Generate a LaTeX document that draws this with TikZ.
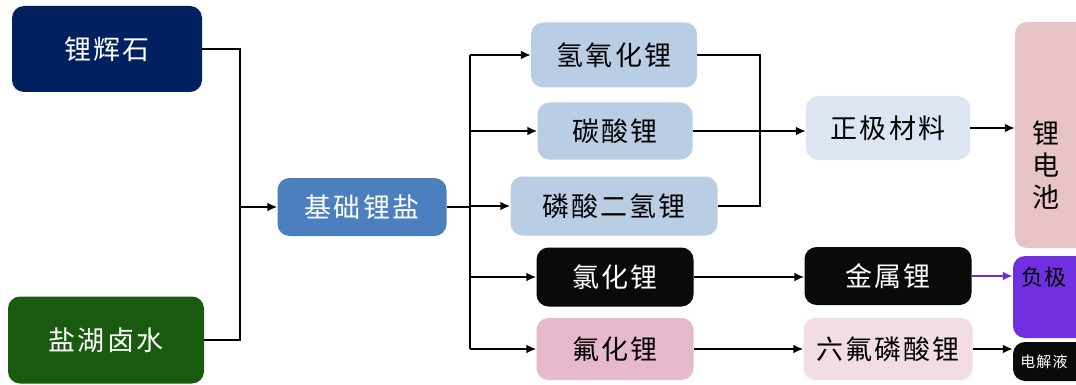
\documentclass[tikz,border=0pt]{standalone}
\usepackage{fontspec}
\setmainfont{Liberation Serif}
\newfontfamily\cjk[LetterSpace=8]{Noto Sans CJK SC}
\usetikzlibrary{arrows.meta}
\definecolor{navy}{HTML}{002060}
\definecolor{dgreen}{HTML}{1A5A10}
\definecolor{midblue}{HTML}{4B7FBE}
\definecolor{ltblue}{HTML}{B9CDE5}
\definecolor{paleblue}{HTML}{DCE6F2}
\definecolor{pinkA}{HTML}{E6B9CD}
\definecolor{pinkB}{HTML}{F2DDE6}
\definecolor{pinkR}{HTML}{E8C4C6}
\definecolor{purp}{HTML}{7030E0}
\definecolor{darkbox}{HTML}{0A0A0A}
\tikzset{
  box/.style={rounded corners=12pt, inner sep=0pt, font=\cjk\fontsize{27}{31}\selectfont, align=center},
  sidetext/.style={inner sep=0pt, align=center},
  ln/.style={line width=2pt, black},
  arr/.style={line width=2pt, black, -{Latex[length=10pt,width=9pt]}},
}
\begin{document}
\begin{tikzpicture}[x=1pt,y=-1pt]
\useasboundingbox (0,0) rectangle (1076,385);
\fill[white] (0,0) rectangle (1076,385);
% column 1
\node[box, fill=navy, text=white, minimum width=190pt, minimum height=86pt] (A) at (107,49) {锂辉石};
\node[box, fill=dgreen, text=white, minimum width=196pt, minimum height=87pt] (B) at (106,340) {盐湖卤水};
% column 2
\node[box, fill=midblue, text=white, minimum width=169pt, minimum height=58pt] (C) at (362,207) {基础锂盐};
% column 3
\node[box, fill=ltblue, minimum width=166pt, minimum height=65pt] (N1) at (614,55) {氢氧化锂};
\node[box, fill=ltblue, minimum width=155pt, minimum height=57pt] (N2) at (615,131) {碳酸锂};
\node[box, fill=ltblue, minimum width=207pt, minimum height=59pt] (N3) at (614,206) {磷酸二氢锂};
\node[box, fill=darkbox, text=white, minimum width=157pt, minimum height=59pt] (N4) at (615,277) {氯化锂};
\node[box, fill=pinkA, minimum width=157pt, minimum height=62pt] (N5) at (615,349) {氟化锂};
% column 4
\node[box, fill=paleblue, minimum width=164pt, minimum height=64pt] (M1) at (888,128) {正极材料};
\node[box, fill=darkbox, text=white, minimum width=167pt, minimum height=58pt] (M2) at (888,276) {金属锂};
\node[box, fill=pinkB, minimum width=169pt, minimum height=62pt] (M3) at (888,349) {六氟磷酸锂};
% column 5 (cut by the right edge)
\node[box, fill=pinkR, minimum width=90pt, minimum height=226pt] (R1) at (1060,135) {};
\node[box, fill=purp, minimum width=90pt, minimum height=82pt] (R2) at (1058,297) {};
\node[box, fill=darkbox, minimum width=90pt, minimum height=39pt] (R3) at (1058,361.5) {};
\node[sidetext, font=\cjk\fontsize{27}{32}\selectfont] (R1t) at (1046,165) {锂\\电\\池};
\node[sidetext, font=\cjk\fontsize{22}{26}\selectfont, text=black] (R2t) at (1044,277) {负极};
\node[sidetext, font=\cjk\fontsize{15}{18}\selectfont, text=white] (R3t) at (1044,362) {电解液};
% connectors
\coordinate (jx) at (240,0);
\draw[ln] (A.east) -| (B.east -| jx) -- (B.east);
\draw[arr] (C.west -| jx) -- (C.west);
\coordinate (kx) at (470,0);
\draw[ln] (C.east) -- (C.east -| kx);
\draw[ln] (N1.west -| kx) -- (N5.west -| kx);
\foreach \n in {N1,N2,N3,N4,N5}{\draw[arr] (\n.west -| kx) -- (\n.west);}
\coordinate (mx) at (760,0);
\draw[ln] (N1.east) -| (N3.east -| mx) -- (N3.east);
\draw[arr] (N2.east) -- (N2.east -| M1.west);
\draw[arr] (M1.east) -- (M1.east -| R1.west);
\draw[arr] (N4.east) -- (N4.east -| M2.west);
\draw[arr] (N5.east) -- (N5.east -| M3.west);
\draw[arr, draw=purp] (M2.east) -- (M2.east -| R2.west);
\draw[arr] (M3.east) -- (M3.east -| R3.west);
\end{tikzpicture}
\end{document}
